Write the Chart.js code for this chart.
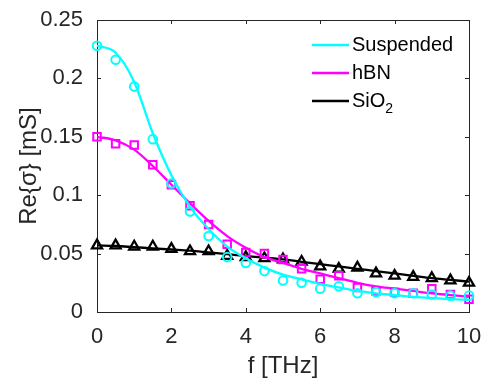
<!DOCTYPE html>
<html>
<head>
<meta charset="utf-8">
<script src="https://cdn.jsdelivr.net/npm/chart.js@4.4.0/dist/chart.umd.min.js"></script>
<style>
    html, body { margin: 0; padding: 0; background: #fff; }
    #wrap { width: 483px; height: 378px; position: relative; }
</style>
</head>
<body>
<div id="wrap"><canvas id="chart"></canvas></div>
<script>
// Frequencies of the measured points and of the fit samples [THz]
const freqs = [0, 0.5, 1, 1.5, 2, 2.5, 3, 3.5, 4, 4.5, 5, 5.5, 6, 6.5, 7, 7.5, 8, 8.5, 9, 9.5, 10];

// Measured Re{sigma} [mS]
const suspendedData = [0.228, 0.216, 0.193, 0.148, 0.110, 0.086, 0.065, 0.047, 0.042, 0.035, 0.027,
                       0.025, 0.020, 0.022, 0.016, 0.017, 0.016, 0.016, 0.015, 0.014, 0.014];
const hbnData = [0.150, 0.144, 0.143, 0.126, 0.109, 0.091, 0.075, 0.058, 0.051, 0.050, 0.045,
                 0.037, 0.028, 0.031, 0.021, 0.018, 0.017, 0.016, 0.020, 0.015, 0.011];
const sio2Data = [0.057, 0.057, 0.056, 0.056, 0.054, 0.052, 0.052, 0.048, 0.047, 0.046, 0.045,
                  0.043, 0.039, 0.037, 0.038, 0.033, 0.031, 0.030, 0.029, 0.027, 0.025];

// Fit curves at the same frequencies
const suspendedFit = [0.228, 0.222, 0.197, 0.153, 0.117, 0.090, 0.071, 0.056, 0.046, 0.038, 0.032,
                      0.028, 0.024, 0.021, 0.018, 0.016, 0.0145, 0.013, 0.012, 0.011, 0.0105];
const hbnFit = [0.150, 0.147, 0.139, 0.125, 0.109, 0.093, 0.078, 0.065, 0.055, 0.047, 0.042,
                0.037, 0.033, 0.029, 0.025, 0.022, 0.020, 0.018, 0.016, 0.0145, 0.013];
const sio2Fit = [0.057, 0.0565, 0.0555, 0.0545, 0.0535, 0.0525, 0.051, 0.0495, 0.048, 0.0465, 0.045,
                 0.043, 0.041, 0.039, 0.037, 0.035, 0.033, 0.031, 0.029, 0.0275, 0.026];

const xTickLabels = ['0', '2', '4', '6', '8', '10'];
const yTickLabels = ['0', '0.05', '0.1', '0.15', '0.2', '0.25'];
const legendLabels = [['Suspended', ''], ['hBN', ''], ['SiO', '2']];

const CYAN = '#00ffff';
const MAGENTA = '#ff00ff';
const BLACK = '#000000';
const AXIS = '#262626';
const FONT = "'Liberation Sans', Arial, Helvetica, sans-serif";

const toPoints = (ys) => freqs.map((f, i) => ({ x: f, y: ys[i] }));

function markerSet(ys, color, style, radius, width) {
    return {
        data: toPoints(ys),
        showLine: false,
        pointStyle: style,
        pointRadius: radius,
        pointBorderColor: color,
        pointBackgroundColor: 'rgba(0,0,0,0)',
        pointBorderWidth: width,
        clip: false
    };
}

function fitSet(ys, color) {
    return {
        data: toPoints(ys),
        showLine: true,
        borderColor: color,
        borderWidth: 2.3,
        pointRadius: 0,
        cubicInterpolationMode: 'monotone',
        clip: false
    };
}

// Box around the plot with inward ticks on all four sides
const framePlugin = {
    id: 'frame',
    beforeDatasetsDraw(chart) {
        const { ctx, chartArea: a, scales } = chart;
        ctx.save();
        ctx.strokeStyle = AXIS;
        ctx.lineWidth = 1;
        ctx.strokeRect(Math.round(a.left) + 0.5, Math.round(a.top) + 0.5,
            Math.round(a.right - a.left), Math.round(a.bottom - a.top));
        ctx.beginPath();
        scales.x.ticks.forEach(t => {
            const px = Math.round(scales.x.getPixelForValue(t.value)) + 0.5;
            ctx.moveTo(px, a.bottom); ctx.lineTo(px, a.bottom - 4);
            ctx.moveTo(px, a.top); ctx.lineTo(px, a.top + 4);
        });
        scales.y.ticks.forEach(t => {
            const py = Math.round(scales.y.getPixelForValue(t.value)) + 0.5;
            ctx.moveTo(a.left, py); ctx.lineTo(a.left + 4, py);
            ctx.moveTo(a.right, py); ctx.lineTo(a.right - 4, py);
        });
        ctx.stroke();
        ctx.restore();
    }
};

// Legend with line samples only, SiO2 with subscript
const legendPlugin = {
    id: 'fitLegend',
    afterDraw(chart) {
        const { ctx, chartArea: a } = chart;
        const colors = [CYAN, MAGENTA, BLACK];
        ctx.save();
        legendLabels.forEach((lbl, i) => {
            const y = a.top + 25 + i * 28;
            const x0 = a.right - 157;
            ctx.strokeStyle = colors[i];
            ctx.lineWidth = 2.3;
            ctx.beginPath();
            ctx.moveTo(x0, y);
            ctx.lineTo(x0 + 37, y);
            ctx.stroke();
            ctx.fillStyle = '#000';
            ctx.textBaseline = 'middle';
            ctx.font = '20px ' + FONT;
            ctx.fillText(lbl[0], x0 + 40, y);
            if (lbl[1]) {
                const w = ctx.measureText(lbl[0]).width;
                ctx.font = '14px ' + FONT;
                ctx.fillText(lbl[1], x0 + 40 + w, y + 8);
            }
        });
        ctx.restore();
    }
};

new Chart(document.getElementById('chart'), {
    type: 'scatter',
    data: {
        datasets: [
            markerSet(suspendedData, CYAN, 'circle', 4.3, 2),
            fitSet(suspendedFit, CYAN),
            markerSet(hbnData, MAGENTA, 'rect', 5.3, 2),
            fitSet(hbnFit, MAGENTA),
            markerSet(sio2Data, BLACK, 'triangle', 5.8, 2.3),
            fitSet(sio2Fit, BLACK)
        ]
    },
    options: {
        responsive: true,
        maintainAspectRatio: false,
        animation: false,
        devicePixelRatio: 1,
        layout: { padding: { left: 0, right: 0, top: 20, bottom: 0 } },
        plugins: {
            legend: { display: false },
            tooltip: { enabled: false }
        },
        scales: {
            x: {
                type: 'linear',
                min: 0,
                max: 10,
                grid: { display: false },
                border: { display: false },
                ticks: {
                    stepSize: 2,
                    padding: 4,
                    color: AXIS,
                    font: { family: FONT, size: 22 },
                    maxRotation: 0,
                    callback: (v, i) => xTickLabels[i]
                },
                title: {
                    display: true,
                    text: 'f [THz]',
                    color: AXIS,
                    font: { family: FONT, size: 24, lineHeight: 1 },
                    padding: { top: 0, bottom: 0 }
                },
                afterFit: (scale) => {
                    scale.height = 66;
                    scale.paddingLeft = 0;
                    scale.paddingRight = 14;
                }
            },
            y: {
                type: 'linear',
                min: 0,
                max: 0.25,
                grid: { display: false },
                border: { display: false },
                ticks: {
                    stepSize: 0.05,
                    padding: 6,
                    color: AXIS,
                    font: { family: FONT, size: 22 },
                    callback: (v, i) => yTickLabels[i]
                },
                title: {
                    display: true,
                    text: 'Re{σ} [mS]',
                    color: AXIS,
                    font: { family: FONT, size: 24, lineHeight: 1.2 },
                    padding: { top: 15, bottom: 0 }
                },
                afterFit: (scale) => { scale.width = 97; }
            }
        }
    },
    plugins: [framePlugin, legendPlugin]
});
</script>
</body>
</html>
